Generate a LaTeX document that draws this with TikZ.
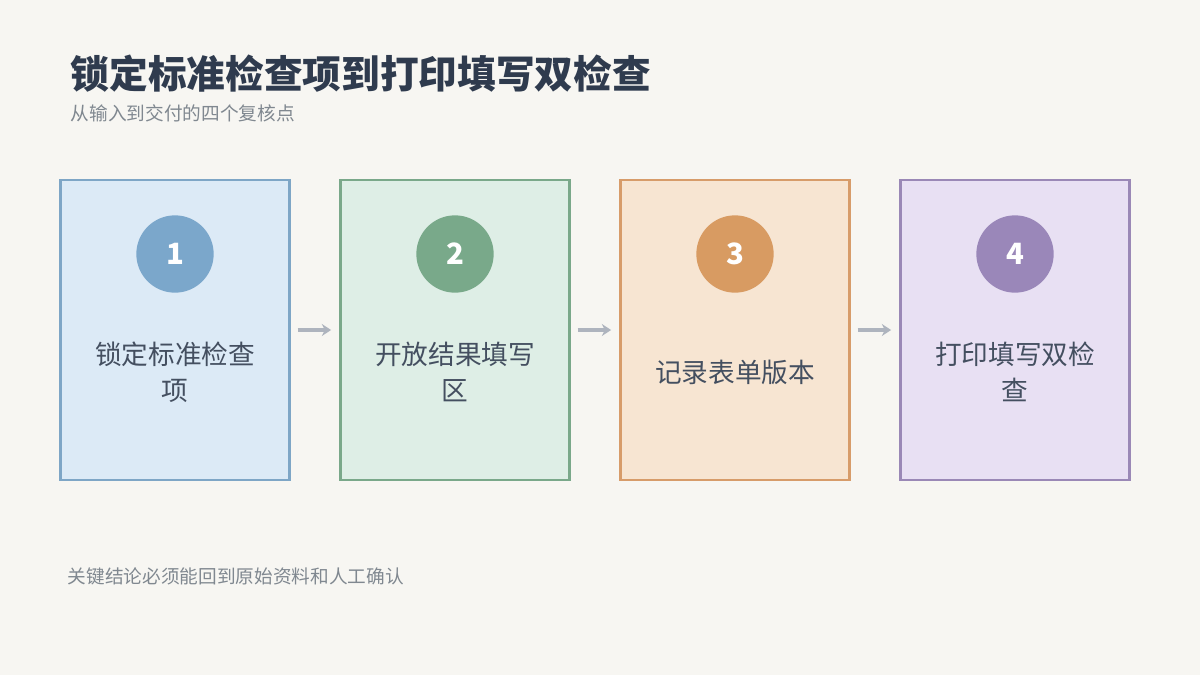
\documentclass[tikz,border=0pt]{standalone}
\usepackage{fontspec}
\setmainfont{Noto Sans CJK SC}
\usetikzlibrary{arrows.meta}
\definecolor{bg}{HTML}{F7F6F2}
\definecolor{ink}{HTML}{2F3B4E}
\definecolor{soft}{HTML}{808890}
\definecolor{arr}{HTML}{AEB4BE}
\definecolor{fA}{HTML}{DCEAF6}\definecolor{lA}{HTML}{7EA6C6}\definecolor{cA}{HTML}{7BA7CB}
\definecolor{fB}{HTML}{DEEEE6}\definecolor{lB}{HTML}{7AA88A}\definecolor{cB}{HTML}{79A98A}
\definecolor{fC}{HTML}{F7E5D2}\definecolor{lC}{HTML}{D79C6A}\definecolor{cC}{HTML}{D89B62}
\definecolor{fD}{HTML}{E8E0F3}\definecolor{lD}{HTML}{9A88B6}\definecolor{cD}{HTML}{9A87B9}
\tikzset{
  stagebox/.style={draw, line width=1.8pt, minimum width=172pt, minimum height=225pt, inner sep=0pt},
  badge/.style={circle, minimum size=58pt, inner sep=0pt, text=white, font=\fontsize{22}{26}\selectfont\bfseries},
  label/.style={align=center, text=ink!90, font=\fontsize{20}{27}\selectfont},
  flow/.style={arr, line width=3pt, -{Stealth[length=7pt,width=9pt]}, shorten <=5pt, shorten >=6pt}
}
\begin{document}
\begin{tikzpicture}[x=0.75pt,y=-0.75pt]
    \fill[bg] (0,0) rectangle (1200,675);

    \node[anchor=west, text=ink, font=\fontsize{29}{34}\selectfont\bfseries] (title) at (66,74) {锁定标准检查项到打印填写双检查};
    \node[anchor=west, text=soft, font=\fontsize{14}{17}\selectfont] (sub) at (66,113) {从输入到交付的四个复核点};

    \foreach \i/\x/\c/\t in {1/175/A/{锁定标准检查\\项}, 2/455/B/{开放结果填写\\区}, 3/735/C/{记录表单版本}, 4/1015/D/{打印填写双检\\查}}
    {
      \node[stagebox, draw=l\c, fill=f\c] (box\i) at (\x,330) {};
      \node[badge, fill=c\c] (num\i) at (\x,254) {\i};
      \node[label] (txt\i) at (\x,372) {\t};
    }

    \draw[flow] (box1.east) -- (box2.west);
    \draw[flow] (box2.east) -- (box3.west);
    \draw[flow] (box3.east) -- (box4.west);

    \node[anchor=west, text=soft, font=\fontsize{14}{17}\selectfont] (foot) at (63,576) {关键结论必须能回到原始资料和人工确认};
\end{tikzpicture}
\end{document}
